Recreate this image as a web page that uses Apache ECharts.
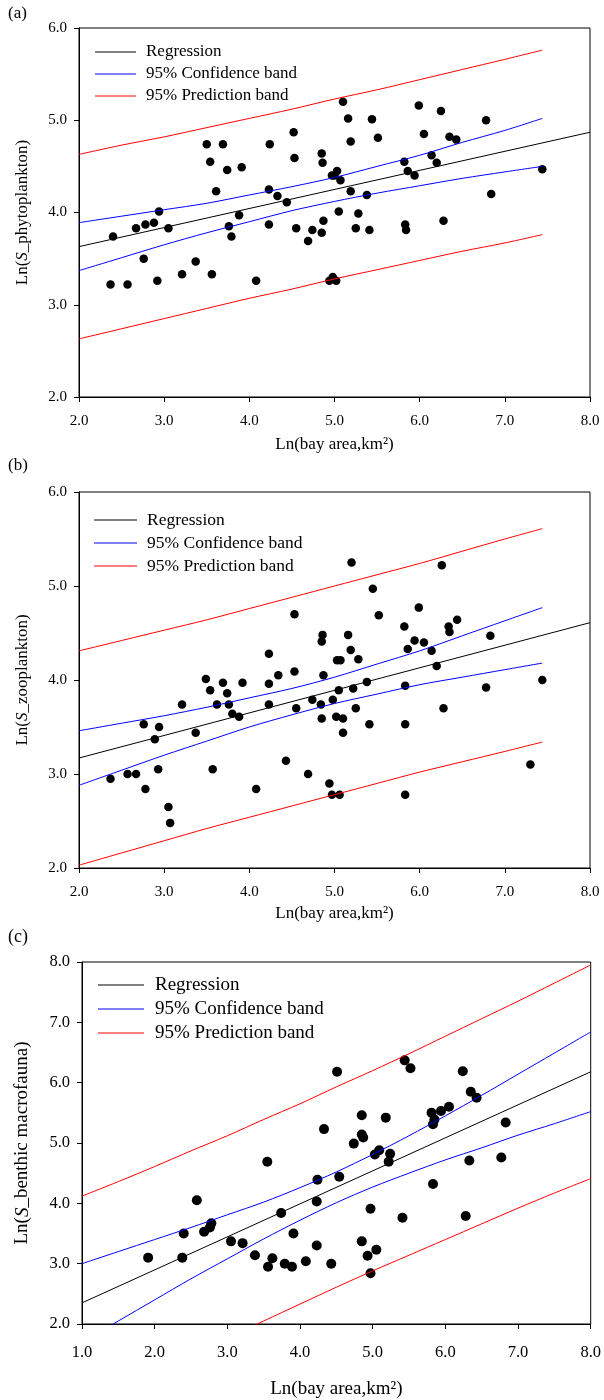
<!DOCTYPE html>
<html>
<head>
<meta charset="utf-8">
<script src="https://cdn.jsdelivr.net/npm/echarts@6/dist/echarts.min.js"></script>
<style>
html,body{margin:0;padding:0;background:#fff;}
#chart{width:604px;height:1400px;}
</style>
</head>
<body>
<div id="chart"></div>
<script>
// ---------- DATA ----------
const legendNames = ['Regression', '95% Confidence band', '95% Prediction band'];
const panelLabels = ['(a)', '(b)', '(c)'];
const xTitle = 'Ln(bay area,km²)';
const yTitles = ['Ln({i|S}_phytoplankton)', 'Ln({i|S}_zooplankton)', 'Ln({i|S}_benthic macrofauna)'];

// panel (a) phytoplankton
const phytoPoints = [[2.40,3.74],[2.37,3.22],[2.57,3.22],[2.67,3.83],[2.78,3.87],[2.76,3.50],[2.88,3.89],[2.94,4.01],[2.92,3.26],[3.05,3.83],
[3.21,3.33],[3.37,3.47],[3.50,4.74],[3.54,4.55],[3.69,4.74],[3.74,4.46],[3.61,4.23],[3.56,3.33],[3.76,3.85],[3.79,3.74],
[3.88,3.97],[3.91,4.49],[4.08,3.26],[4.23,4.25],[4.24,4.74],[4.23,3.87],[4.33,4.18],[4.44,4.11],[4.52,4.87],[4.53,4.59],
[4.55,3.83],[4.69,3.69],[4.74,3.81],[4.85,3.78],[4.87,3.91],[4.85,4.64],[4.86,4.54],[4.97,4.40],[5.03,4.45],[5.00,4.40],
[5.07,4.35],[4.94,3.26],[4.98,3.30],[5.02,3.26],[5.05,4.01],[5.10,5.20],[5.16,5.02],[5.19,4.77],[5.19,4.23],[5.28,3.99],
[5.25,3.83],[5.38,4.19],[5.41,3.81],[5.44,5.01],[5.51,4.81],[5.82,4.55],[5.83,3.87],[5.84,3.81],[5.86,4.45],[5.94,4.40],
[5.99,5.16],[6.05,4.85],[6.14,4.62],[6.20,4.54],[6.25,5.10],[6.28,3.91],[6.35,4.82],[6.43,4.79],[6.78,5.00],[6.84,4.20],[7.44,4.47]];
const phytoRegX = [2, 8];
const phytoRegY = [3.63, 4.87];
const phytoBandX = [2, 2.5, 3, 3.5, 4, 4.5, 5, 5.5, 6, 6.5, 7, 7.44];
const phytoConfUp = [3.89,3.96,4.03,4.10,4.19,4.28,4.38,4.50,4.62,4.76,4.89,5.02];
const phytoConfLo = [3.37,3.51,3.65,3.78,3.90,4.02,4.12,4.21,4.29,4.37,4.44,4.50];
const phytoPredUp = [4.63,4.73,4.82,4.92,5.02,5.12,5.23,5.33,5.44,5.55,5.66,5.76];
const phytoPredLo = [2.63,2.74,2.85,2.96,3.07,3.17,3.28,3.38,3.48,3.58,3.67,3.76];

// panel (b) zooplankton
const zooPoints = [[2.37,2.95],[2.57,3.00],[2.67,3.00],[2.78,2.84],[2.76,3.53],[2.89,3.37],[2.94,3.50],[2.93,3.05],[3.05,2.65],[3.07,2.48],
[3.21,3.74],[3.37,3.44],[3.49,4.01],[3.54,3.89],[3.57,3.05],[3.62,3.74],[3.69,3.97],[3.74,3.86],[3.76,3.74],[3.80,3.64],
[3.88,3.61],[3.92,3.97],[4.08,2.84],[4.23,3.96],[4.23,3.74],[4.23,4.28],[4.34,4.05],[4.43,3.14],[4.53,4.09],[4.55,3.70],
[4.53,4.70],[4.69,3.00],[4.74,3.79],[4.84,3.74],[4.85,3.59],[4.85,4.41],[4.86,4.48],[4.87,4.05],[4.94,2.90],[4.97,2.78],
[5.06,2.78],[4.98,3.79],[5.02,3.61],[5.03,4.21],[5.07,4.21],[5.05,3.89],[5.10,3.59],[5.10,3.44],[5.16,4.48],[5.19,4.32],
[5.20,5.25],[5.22,3.91],[5.25,3.70],[5.28,4.22],[5.38,3.98],[5.41,3.53],[5.45,4.97],[5.52,4.69],[5.82,4.57],[5.83,3.94],
[5.83,3.53],[5.83,2.78],[5.86,4.33],[5.94,4.42],[5.99,4.77],[6.05,4.40],[6.14,4.31],[6.20,4.15],[6.26,5.22],[6.28,3.70],
[6.34,4.57],[6.35,4.51],[6.44,4.64],[6.78,3.92],[6.83,4.47],[7.30,3.10],[7.44,4.00]];
const zooRegX = [2, 8];
const zooRegY = [3.17, 4.61];
const zooBandX = [2, 2.5, 3, 3.5, 4, 4.5, 5, 5.5, 6, 6.5, 7, 7.44];
const zooConfUp = [3.46,3.54,3.62,3.71,3.81,3.91,4.03,4.17,4.31,4.47,4.63,4.77];
const zooConfLo = [2.88,3.04,3.20,3.35,3.50,3.63,3.75,3.85,3.95,4.03,4.11,4.18];
const zooPredUp = [4.31,4.42,4.53,4.64,4.76,4.88,5.00,5.12,5.24,5.37,5.50,5.61];
const zooPredLo = [2.03,2.16,2.29,2.42,2.54,2.66,2.78,2.90,3.02,3.13,3.24,3.34];

// panel (c) benthic macrofauna
const benthPoints = [[1.91,3.10],[2.38,3.10],[2.40,3.50],[2.58,4.05],[2.68,3.53],[2.76,3.60],[2.78,3.67],[3.05,3.37],[3.21,3.34],[3.38,3.14],
[3.55,4.69],[3.56,2.95],[3.62,3.09],[3.74,3.84],[3.79,3.00],[3.89,2.95],[3.91,3.50],[4.08,3.04],[4.23,4.03],[4.23,3.30],
[4.24,4.39],[4.33,5.23],[4.43,3.00],[4.51,6.18],[4.54,4.44],[4.74,4.99],[4.85,5.46],[4.85,5.14],[4.87,5.09],[4.85,3.37],
[4.93,3.13],[4.97,3.91],[4.97,2.84],[5.03,4.81],[5.09,4.88],[5.05,3.23],[5.18,5.42],[5.22,4.69],[5.24,4.82],[5.41,3.76],
[5.44,6.37],[5.52,6.24],[5.81,5.50],[5.85,5.39],[5.83,5.31],[5.83,4.32],[5.94,5.53],[6.05,5.60],[6.24,6.19],[6.28,3.79],
[6.33,4.71],[6.35,5.85],[6.43,5.75],[6.77,4.76],[6.83,5.34]];
const benthRegX = [1, 8];
const benthRegY = [2.35, 6.18];
const benthBandX = [1, 1.5, 2, 2.5, 3, 3.5, 4, 4.5, 5, 5.5, 6, 6.5, 7, 7.5, 8];
const benthConfUp = [3.00,3.20,3.40,3.60,3.81,4.02,4.26,4.52,4.81,5.12,5.45,5.79,6.14,6.49,6.84];
const benthConfLo = [1.70,2.05,2.40,2.75,3.08,3.41,3.72,4.01,4.27,4.50,4.72,4.92,5.13,5.32,5.52];
const benthPredUp = [4.12,4.36,4.61,4.87,5.12,5.39,5.65,5.93,6.20,6.48,6.77,7.06,7.35,7.65,7.95];
const benthPredLo = [0.59,0.89,1.18,1.48,1.77,2.05,2.33,2.61,2.88,3.14,3.40,3.66,3.92,4.17,4.41];

// ---------- LAYOUT / STYLE ----------
const FONT = '"Liberation Serif", "Times New Roman", serif';
const lineColors = ['#000000', '#0000ff', '#ff0000'];
const panels = [
  {points: phytoPoints, regX: phytoRegX, regY: phytoRegY, bandX: phytoBandX, cu: phytoConfUp, cl: phytoConfLo, pu: phytoPredUp, pl: phytoPredLo,
   grid: {left: 79, top: 28, width: 511, height: 369}, xMin: 2, xMax: 8, yMin: 2, yMax: 6,
   tick: 15, title: 17, leg: 17, legX0: 95, legX1: 136, legTx: 146, legY: [52, 74, 96], sym: 8.5, xMargin: 17, xNameGap: 39, yNameGap: 48, labTop: 5},
  {points: zooPoints, regX: zooRegX, regY: zooRegY, bandX: zooBandX, cu: zooConfUp, cl: zooConfLo, pu: zooPredUp, pl: zooPredLo,
   grid: {left: 79, top: 492, width: 511, height: 376}, xMin: 2, xMax: 8, yMin: 2, yMax: 6,
   tick: 15, title: 17, leg: 17.5, legX0: 94, legX1: 137, legTx: 147, legY: [520, 543, 566], sym: 8.5, xMargin: 17, xNameGap: 37, yNameGap: 48, labTop: 457},
  {points: benthPoints, regX: benthRegX, regY: benthRegY, bandX: benthBandX, cu: benthConfUp, cl: benthConfLo, pu: benthPredUp, pl: benthPredLo,
   grid: {left: 82, top: 962, width: 509, height: 362}, xMin: 1, xMax: 8, yMin: 2, yMax: 8,
   tick: 16.5, title: 19, leg: 19, legX0: 98, legX1: 144, legTx: 155, legY: [985, 1009, 1033], sym: 10, xMargin: 20, xNameGap: 56, yNameGap: 50, labTop: 928}
];

const pair = (xs, ys) => xs.map((x, i) => [x, ys[i]]);

const option = {
  animation: false,
  backgroundColor: '#fff',
  grid: [], xAxis: [], yAxis: [], series: [], graphic: []
};

panels.forEach((p, k) => {
  option.grid.push(Object.assign({show: true, borderColor: '#000', borderWidth: 1, backgroundColor: 'transparent'}, p.grid));
  const axisCommon = {
    axisLine: {show: true, onZero: false, lineStyle: {color: '#000', width: 1}},
    axisTick: {show: true, inside: false, length: 5, lineStyle: {color: '#000'}},
    splitLine: {show: false},
    axisLabel: {color: '#000', fontFamily: FONT, fontSize: p.tick, formatter: v => v.toFixed(1)}
  };
  option.xAxis.push(Object.assign({}, axisCommon, {
    type: 'value', gridIndex: k, min: p.xMin, max: p.xMax, interval: 1,
    axisLabel: Object.assign({}, axisCommon.axisLabel, {margin: p.xMargin}),
    name: xTitle, nameLocation: 'middle', nameGap: p.xNameGap,
    nameTextStyle: {color: '#000', fontFamily: FONT, fontSize: p.title}
  }));
  option.yAxis.push(Object.assign({}, axisCommon, {
    type: 'value', gridIndex: k, min: p.yMin, max: p.yMax, interval: 1,
    axisLabel: Object.assign({}, axisCommon.axisLabel, {margin: 12}),
    name: yTitles[k], nameLocation: 'middle', nameGap: p.yNameGap, nameRotate: 90,
    nameTextStyle: {color: '#000', fontFamily: FONT, fontSize: p.title,
      rich: {i: {fontStyle: 'italic', fontFamily: FONT, fontSize: p.title, color: '#000'}}}
  }));
  const line = (name, data, color, smooth) => ({
    type: 'line', name: name, xAxisIndex: k, yAxisIndex: k, data: data,
    symbol: 'none', smooth: smooth, clip: true, silent: true,
    lineStyle: {color: color, width: 1}, itemStyle: {color: color}
  });
  option.series.push({
    type: 'scatter', name: 'data', xAxisIndex: k, yAxisIndex: k, data: p.points,
    symbol: 'circle', symbolSize: p.sym, itemStyle: {color: '#000', opacity: 1}
  });
  option.series.push(line(legendNames[0], pair(p.regX, p.regY), lineColors[0], false));
  option.series.push(line(legendNames[1], pair(p.bandX, p.cu), lineColors[1], 0.3));
  option.series.push(line(legendNames[1], pair(p.bandX, p.cl), lineColors[1], 0.3));
  option.series.push(line(legendNames[2], pair(p.bandX, p.pu), lineColors[2], 0.3));
  option.series.push(line(legendNames[2], pair(p.bandX, p.pl), lineColors[2], 0.3));
  // legend key (drawn as graphic elements)
  legendNames.forEach((n, i) => {
    option.graphic.push({
      type: 'line', silent: true,
      shape: {x1: p.legX0, y1: p.legY[i], x2: p.legX1, y2: p.legY[i]},
      style: {stroke: lineColors[i], lineWidth: 1}
    });
    option.graphic.push({
      type: 'text', silent: true, x: p.legTx, y: p.legY[i],
      style: {text: n, fill: '#000', font: p.leg + 'px ' + FONT, textVerticalAlign: 'middle', verticalAlign: 'middle'}
    });
  });
  option.graphic.push({
    type: 'text', left: 8, top: p.labTop,
    style: {text: panelLabels[k], fill: '#000', font: (k === 2 ? 18 : 17) + 'px ' + FONT}
  });
});

const chart = echarts.init(document.getElementById('chart'), null, {renderer: 'canvas'});
chart.setOption(option);
</script>
</body>
</html>
